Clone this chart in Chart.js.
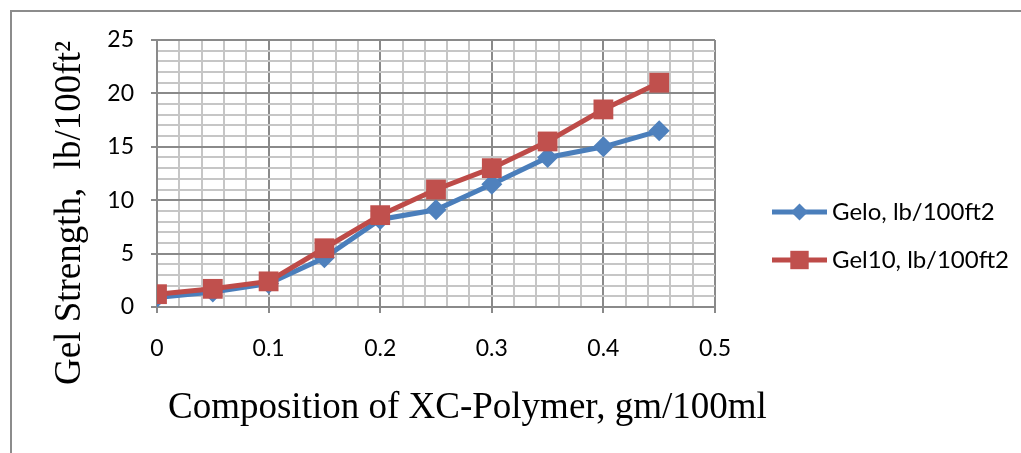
<!DOCTYPE html>
<html>
<head>
<meta charset="utf-8">
<script src="https://cdn.jsdelivr.net/npm/chart.js@4/dist/chart.umd.min.js"></script>
<style>
    html, body { margin: 0; padding: 0; background: #fff; }
    #wrap { width: 1021px; height: 453px; position: relative; }
</style>
</head>
<body>
<div id="wrap"><canvas id="gelChart"></canvas></div>
<script>
// values
const compositions = [0, 0.05, 0.1, 0.15, 0.2, 0.25, 0.3, 0.35, 0.4, 0.45];
const gel0Values = [0.9, 1.4, 2.2, 4.6, 8.2, 9.1, 11.5, 14, 15, 16.5];
const gel10Values = [1.2, 1.7, 2.4, 5.5, 8.6, 11, 13, 15.5, 18.5, 21];
const seriesNames = ['Gelo, lb/100ft2', 'Gel10, lb/100ft2'];
const xTitle = 'Composition of XC-Polymer, gm/100ml';
const yTitle = 'Gel Strength,  lb/100ft\u00B2';

const MAJOR = '#8a8a8a';
const MINOR = '#c6c6c6';

function isMultiple(v, step) {
    const r = v / step;
    return Math.abs(r - Math.round(r)) < 1e-6;
}

function toPoints(values) {
    return compositions.map((x, i) => ({ x: x, y: values[i] }));
}

// outer frame of the chart object, top and left edges only
const framePlugin = {
    id: 'frame',
    beforeDraw(chart) {
        const ctx = chart.ctx;
        ctx.save();
        ctx.strokeStyle = '#8c8c8c';
        ctx.lineWidth = 2;
        ctx.beginPath();
        ctx.moveTo(11, 453);
        ctx.lineTo(11, 11);
        ctx.lineTo(1021, 11);
        ctx.stroke();
        ctx.restore();
    }
};

// excel style legend (line with marker) and both axis titles
const legendPlugin = {
    id: 'sideLegend',
    afterDraw(chart) {
        const ctx = chart.ctx;
        ctx.save();
        const rows = [212, 260];
        chart.data.datasets.forEach((ds, i) => {
            const y = rows[i];
            ctx.strokeStyle = ds.borderColor;
            ctx.lineWidth = 5;
            ctx.beginPath();
            ctx.moveTo(772, y);
            ctx.lineTo(827, y);
            ctx.stroke();
            ctx.fillStyle = ds.pointBackgroundColor;
            Chart.helpers.drawPoint(ctx, {
                pointStyle: ds.pointStyle,
                rotation: 0,
                borderWidth: 0,
                radius: ds.pointStyle === 'rect' ? 13 : 8.5
            }, 799.5, y);
            ctx.fillStyle = '#000';
            ctx.font = '24px Lato';
            ctx.textBaseline = 'middle';
            ctx.textAlign = 'left';
            ctx.fillText(ds.label, 832, y);
        });

        ctx.fillStyle = '#000';
        ctx.font = '37px "Liberation Serif"';
        ctx.textBaseline = 'alphabetic';
        ctx.textAlign = 'left';
        ctx.fillText(xTitle, 168, 418);

        ctx.translate(80, 385);
        ctx.rotate(-Math.PI / 2);
        ctx.fillText(yTitle, 0, 0);
        ctx.restore();
    }
};

const ctx = document.getElementById('gelChart').getContext('2d');
new Chart(ctx, {
    type: 'line',
    data: {
        datasets: [{
            label: seriesNames[0],
            data: toPoints(gel0Values),
            borderColor: '#4a7ebb',
            backgroundColor: '#4f81bd',
            pointBackgroundColor: '#4f81bd',
            pointBorderWidth: 0,
            pointStyle: 'rectRot',
            pointRadius: 10.5,
            borderWidth: 5,
            tension: 0,
            order: 1
        }, {
            label: seriesNames[1],
            data: toPoints(gel10Values),
            borderColor: '#be4b48',
            backgroundColor: '#c0504d',
            pointBackgroundColor: '#c0504d',
            pointBorderWidth: 0,
            pointStyle: 'rect',
            pointRadius: 14,
            borderWidth: 5,
            tension: 0,
            order: 0
        }]
    },
    options: {
        responsive: true,
        maintainAspectRatio: false,
        animation: false,
        events: [],
        layout: {
            padding: { left: 0, top: 40, right: 306, bottom: 0 }
        },
        plugins: {
            legend: { display: false },
            tooltip: { enabled: false }
        },
        scales: {
            x: {
                type: 'linear',
                min: 0,
                max: 0.5,
                afterFit(scale) { scale.height = 146; },
                border: { color: MAJOR, width: 2 },
                grid: {
                    color: c => isMultiple(c.tick.value, 0.1) ? MAJOR : MINOR,
                    tickColor: c => isMultiple(c.tick.value, 0.1) ? MAJOR : 'rgba(0,0,0,0)',
                    tickLength: 6,
                    lineWidth: 2
                },
                ticks: {
                    stepSize: 0.02,
                    autoSkip: false,
                    maxRotation: 0,
                    padding: 22,
                    color: '#000',
                    font: { family: 'Lato', size: 23 },
                    callback: v => isMultiple(v, 0.1) ? String(Math.round(v * 10) / 10) : ''
                }
            },
            y: {
                min: 0,
                max: 25,
                afterFit(scale) { scale.width = 157; },
                border: { color: MAJOR, width: 2 },
                grid: {
                    color: c => isMultiple(c.tick.value, 5) ? MAJOR : MINOR,
                    tickColor: c => isMultiple(c.tick.value, 5) ? MAJOR : 'rgba(0,0,0,0)',
                    tickLength: 6,
                    lineWidth: 2
                },
                ticks: {
                    stepSize: 1,
                    autoSkip: false,
                    padding: 17,
                    color: '#000',
                    font: { family: 'Lato', size: 23 },
                    callback: v => isMultiple(v, 5) ? String(v) : ''
                }
            }
        }
    },
    plugins: [framePlugin, legendPlugin]
});
</script>
</body>
</html>
